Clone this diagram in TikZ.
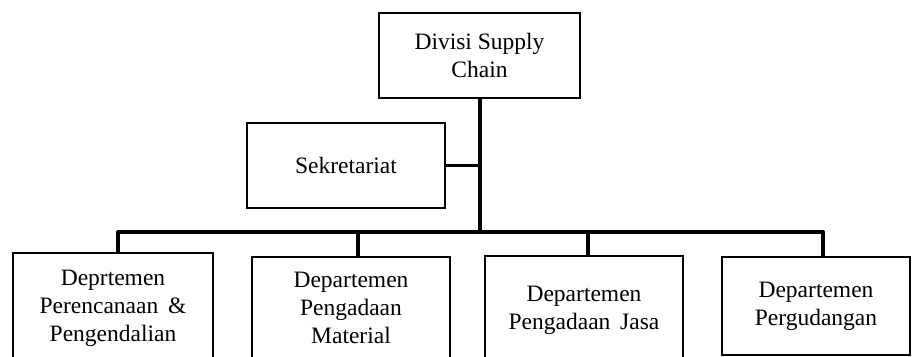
\documentclass[tikz,border=0pt]{standalone}
\usepackage{fontspec}
\setmainfont{Liberation Serif}
\begin{document}
\begin{tikzpicture}[x=1pt,y=-1pt,
  box/.style={draw=black,line width=2.8pt,fill=white,inner sep=0pt,align=center,
    font=\fontsize{23.5}{28}\selectfont},
  conn/.style={line width=4pt,line cap=rect}]
\useasboundingbox (0,0) rectangle (915,356);
\clip (0,0) rectangle (915,356);
% boxes (explicit corner coordinates via minimum sizes)
\node[box,minimum width=201pt,minimum height=85pt] (top) at (479.5,55.5) {Divisi Supply\\Chain};
\node[box,minimum width=198pt,minimum height=85pt,line width=2.5pt] (sek) at (346,165.5) {Sekretariat};
\node[box,minimum width=200pt,minimum height=110pt] (b1) at (113,308) {Deprtemen\\Perencanaan \,\&\\Pengendalian};
\node[box,minimum width=198pt,minimum height=102pt] (b2) at (351,308) {Departemen\\Pengadaan\\Material};
\node[box,minimum width=198pt,minimum height=108pt] (b3) at (584,310) {Departemen\\Pengadaan \,Jasa};
\node[box,minimum width=188pt,minimum height=98pt] (b4) at (816,306) {Departemen\\Pergudangan};
% connectors
\coordinate (trunk) at (480,232);
\coordinate (bl) at (118,232);
\coordinate (br) at (823,232);
\draw[conn] (top.south -| trunk) -- (trunk);
\draw[conn,line width=3.5pt,line cap=butt] (sek.east) -- (sek.east -| trunk);
\draw[conn,line cap=round] (bl) -- (br);
\draw[conn,line cap=butt] (bl) -- (bl |- b1.north);
\draw[conn,line cap=butt] (358,232) -- (358,0 |- b2.north);
\draw[conn,line cap=butt] (588,232) -- (588,0 |- b3.north);
\draw[conn,line cap=butt] (br) -- (br |- b4.north);
\end{tikzpicture}
\end{document}
